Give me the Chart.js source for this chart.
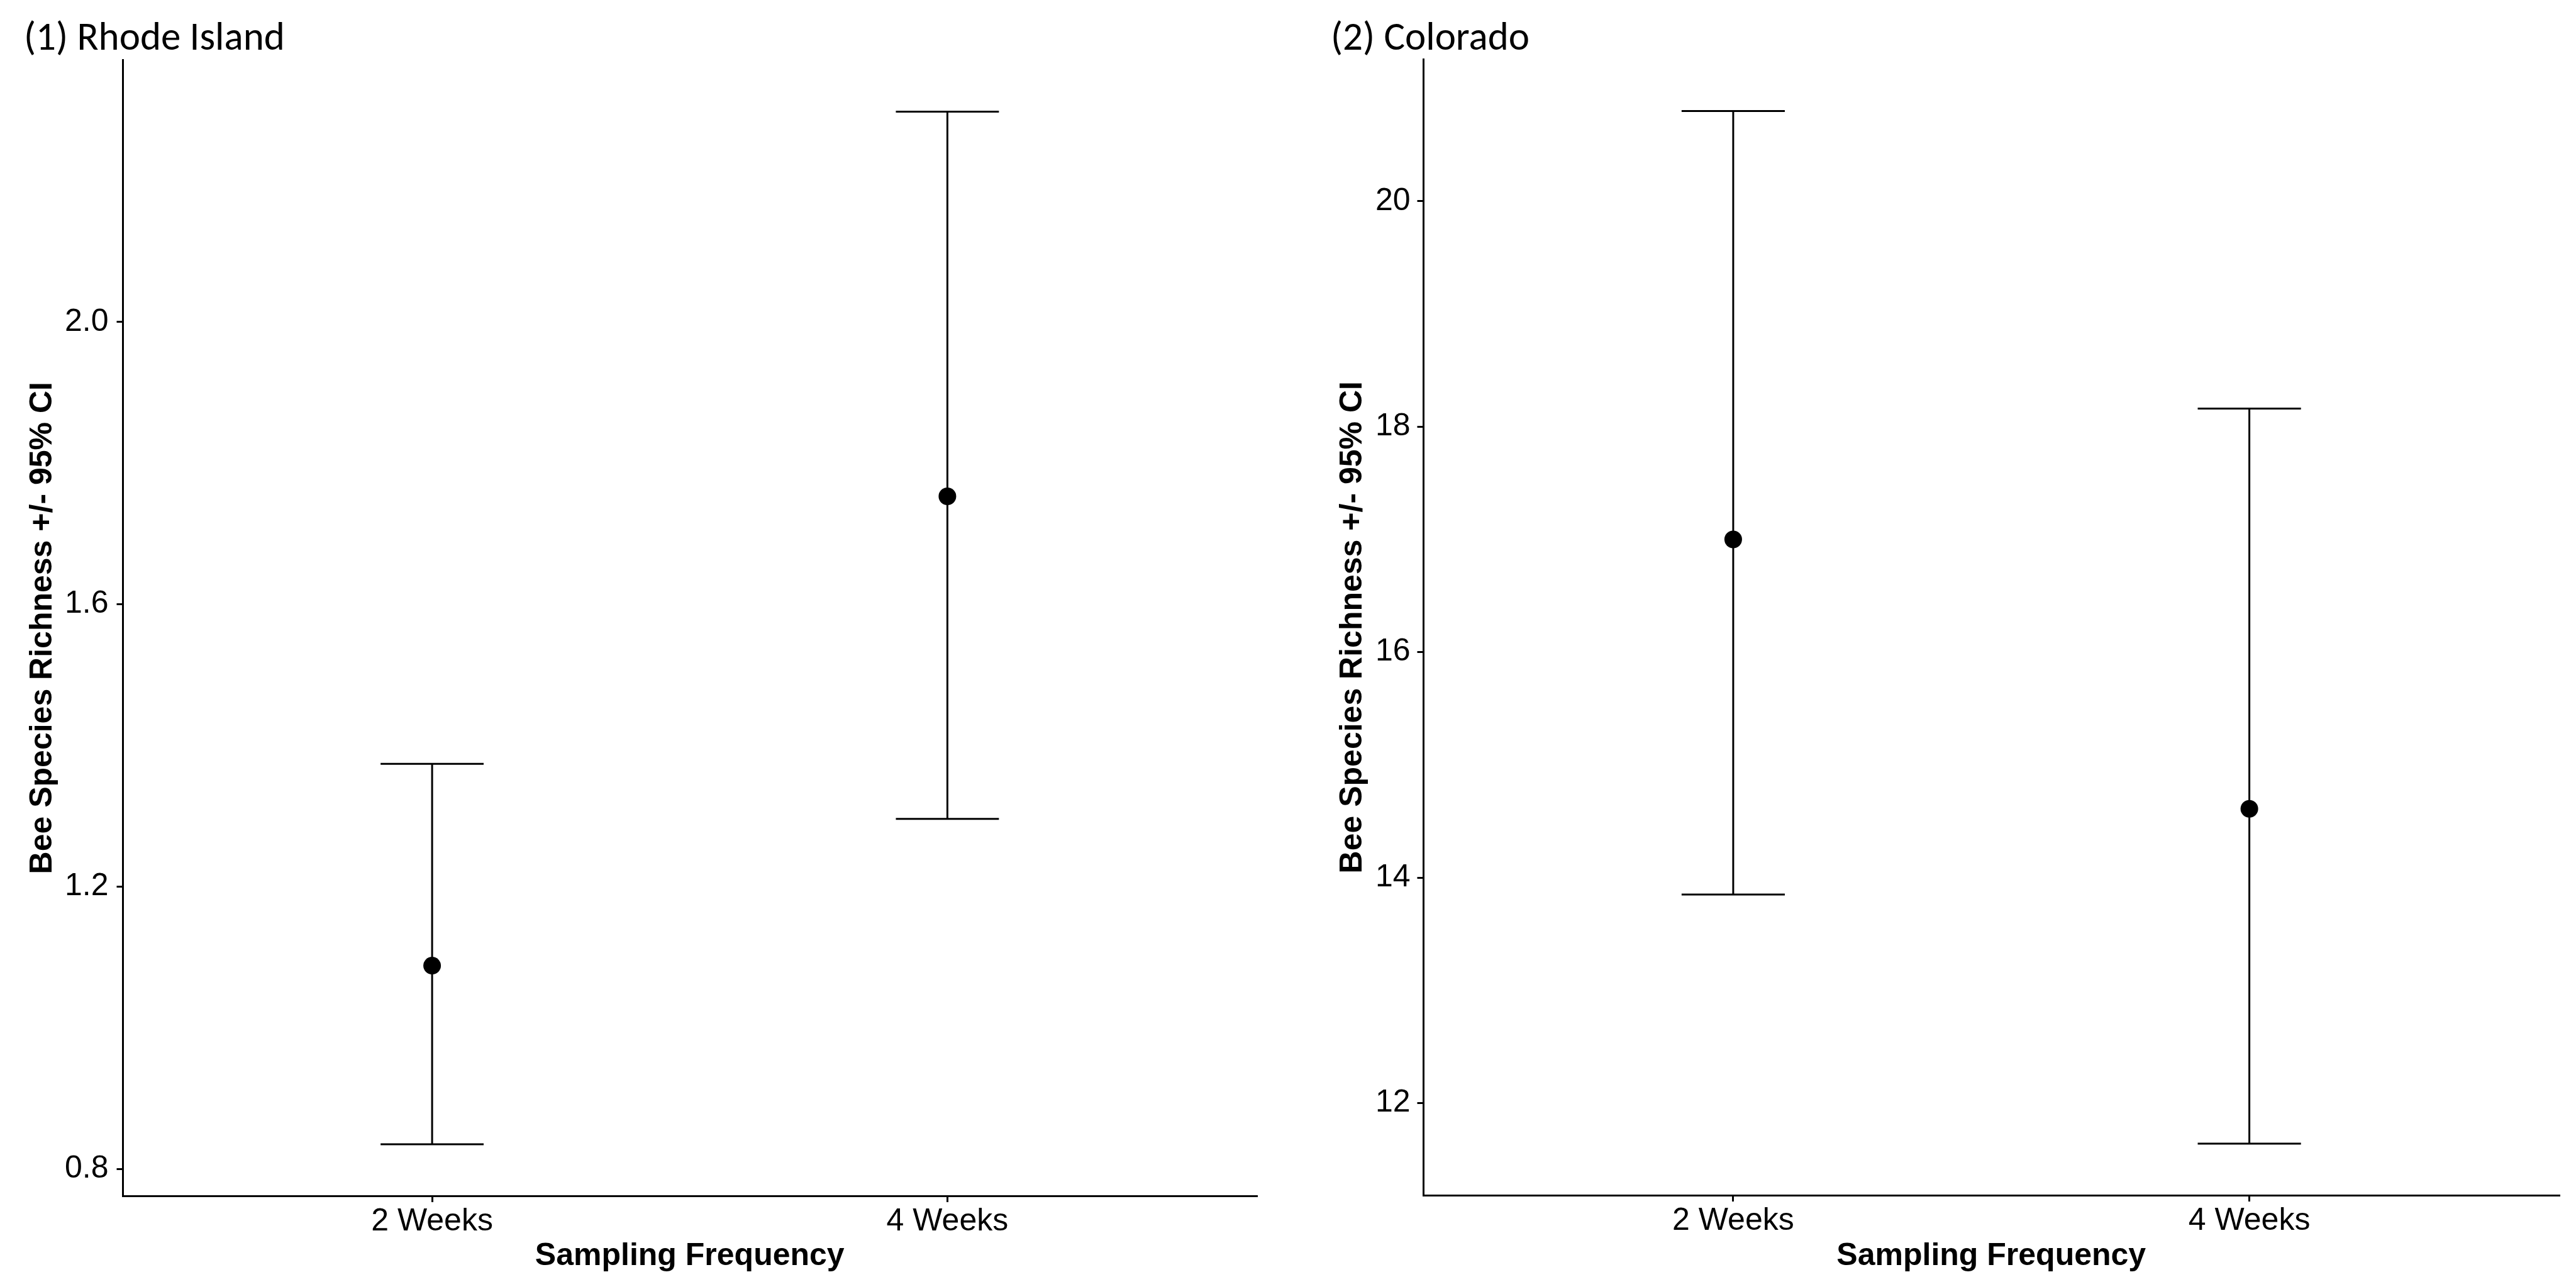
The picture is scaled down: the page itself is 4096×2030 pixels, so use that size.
<!DOCTYPE html>
<html>
<head>
<meta charset="utf-8">
<script src="https://cdn.jsdelivr.net/npm/chart.js@4.4.1/dist/chart.umd.min.js"></script>
<style>
  html, body { margin:0; padding:0; background:#fff; }
  #wrap { position:relative; width:4096px; height:2030px; overflow:hidden; background:#fff; }
  .panel { position:absolute; top:0; height:2030px; }
  .panel canvas { position:absolute; left:0; top:0; }
  .ptitle { position:absolute; top:26px; font-family:Carlito, Lato, "Open Sans", sans-serif; font-size:63px; line-height:63px; color:#000; white-space:nowrap; }
</style>
</head>
<body>
<div id="wrap">
  <div class="panel" style="left:0;width:2048px">
    <canvas id="c1" width="2048" height="2030"></canvas>
    <div class="ptitle" style="left:38px">(1) Rhode Island</div>
  </div>
  <div class="panel" style="left:2068px;width:2028px">
    <canvas id="c2" width="2028" height="2030"></canvas>
    <div class="ptitle" style="left:48px">(2) Colorado</div>
  </div>
</div>
<script>
const groups = ["2 Weeks", "4 Weeks"];
const groupX = [1, 2];

// (1) Rhode Island
const riMean  = [1.088, 1.753];
const riLower = [0.835, 1.296];
const riUpper = [1.374, 2.298];
const riTicks = [0.8, 1.2, 1.6, 2.0];

// (2) Colorado
const coMean  = [17.00, 14.61];
const coLower = [13.85, 11.64];
const coUpper = [20.80, 18.16];
const coTicks = [12, 14, 16, 18, 20];

const yTitle = "Bee Species Richness +/- 95% CI";
const xTitle = "Sampling Frequency";

const INK = "#000";
const TICK_FONT = {family:"'Liberation Sans', Arial, sans-serif", size:50, lineHeight:1};
const AXIS_FONT = {family:"'Liberation Sans', Arial, sans-serif", size:50, weight:"bold", lineHeight:1.2};

function seg(data){
  return {data, showLine:true, borderColor:INK, borderWidth:3, pointRadius:0, fill:false};
}

function errorbarSets(mean, lower, upper){
  const half = 0.1; // errorbar width 0.2
  const sets = [];
  groupX.forEach((x,i)=>{
    sets.push(seg([{x, y:lower[i]}, {x, y:upper[i]}]));
    sets.push(seg([{x:x-half, y:upper[i]}, {x:x+half, y:upper[i]}]));
    sets.push(seg([{x:x-half, y:lower[i]}, {x:x+half, y:lower[i]}]));
  });
  sets.push({
    data: groupX.map((x,i)=>({x, y:mean[i]})),
    showLine:false, pointRadius:14, pointBackgroundColor:INK, pointBorderColor:INK, pointBorderWidth:0
  });
  return sets;
}

function axisGrid(){
  return {drawOnChartArea:false, drawTicks:true, tickLength:10, color:INK, lineWidth:3};
}

function makeChart(id, mean, lower, upper, ticks, digits, o){
  const lo = Math.min(...lower), hi = Math.max(...upper);
  const pad = (hi - lo) * 0.05;
  return new Chart(document.getElementById(id), {
    type: "scatter",
    data: {datasets: errorbarSets(mean, lower, upper)},
    options: {
      responsive:false, animation:false, devicePixelRatio:1, events:[],
      layout: {padding:{top:o.top, right:o.right, left:0, bottom:0}},
      plugins: {legend:{display:false}, tooltip:{enabled:false}, title:{display:false}},
      scales: {
        x: {
          type:"linear", min:0.4, max:2.6,
          afterBuildTicks: s => { s.ticks = groupX.map(v=>({value:v})); },
          afterFit: s => { s.height = o.xHeight; },
          grid: axisGrid(),
          border: {display:true, color:INK, width:3},
          ticks: {color:INK, font:TICK_FONT, padding:6, maxRotation:0, autoSkip:false,
                  callback: v => groups[groupX.indexOf(v)]},
          title: {display:true, text:xTitle, color:INK, font:AXIS_FONT, padding:{top:0, bottom:3}}
        },
        y: {
          type:"linear", min:lo-pad, max:hi+pad,
          afterBuildTicks: s => { s.ticks = ticks.map(v=>({value:v})); },
          afterFit: s => { s.width = o.yWidth; },
          grid: axisGrid(),
          border: {display:true, color:INK, width:3},
          ticks: {color:INK, font:TICK_FONT, padding:o.yTickPad, callback: v => v.toFixed(digits)},
          title: {display:true, text:yTitle, color:INK, font:AXIS_FONT, padding:{top:o.yTitlePad, bottom:0}}
        }
      }
    }
  });
}

makeChart("c1", riMean, riLower, riUpper, riTicks, 1,
  {top:95.5, right:50, xHeight:129, yWidth:195.5, yTickPad:13, yTitlePad:38.6});
makeChart("c2", coMean, coLower, coUpper, coTicks, 0,
  {top:94.5, right:27, xHeight:130, yWidth:195.5, yTickPad:11, yTitlePad:53});
</script>
</body>
</html>
